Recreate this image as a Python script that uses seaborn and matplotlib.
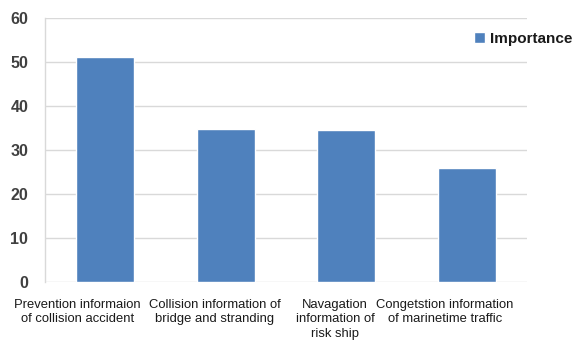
import matplotlib
matplotlib.use("Agg")
import matplotlib.pyplot as plt
import matplotlib.transforms as mtransforms
import seaborn as sns
import pandas as pd

categories = [
    "Prevention informaion\nof collision accident",
    "Collision information of\nbridge and stranding",
    "Navagation\ninformation of\nrisk ship",
    "Congetstion information\nof marinetime traffic",
]
importance = [51.1, 34.7, 34.5, 25.8]
y_ticks = [0, 10, 20, 30, 40, 50, 60]
series_name = "Importance"

sns.set_style("white")
plt.rcParams["font.family"] = ["Liberation Sans", "DejaVu Sans"]

df = pd.DataFrame({"category": categories, "value": importance})

fig = plt.figure(figsize=(5.76, 3.44), dpi=100)
ax = fig.add_axes([0.078, 0.180, 0.837, 0.768])

sns.barplot(data=df, x="category", y="value", color="#4F81BD",
            width=0.48, saturation=1, ax=ax, label=series_name, zorder=3)

ax.set_ylim(0, 60)
ax.set_xlim(-0.5, len(categories) - 0.5)
ax.set_yticks(y_ticks)
ax.yaxis.grid(True, color="#d9d9d9", linewidth=1.0, zorder=0)
ax.set_axisbelow(True)
for side in ["top", "right", "bottom"]:
    ax.spines[side].set_visible(False)
ax.spines["left"].set_color("#d9d9d9")
ax.spines["left"].set_linewidth(1.0)
ax.set_xlabel("")
ax.set_ylabel("")

ax.tick_params(axis="y", length=0, pad=12, labelsize=11.5, labelcolor="#404040")
for lbl in ax.get_yticklabels():
    lbl.set_fontweight("bold")
ax.tick_params(axis="x", length=0, pad=12, labelsize=9.4, labelcolor="#1a1a1a")

# shift each category label a little to the left of its bar
shifts_px = [-28, -11, -11, -22]
for lbl, dx in zip(ax.get_xticklabels(), shifts_px):
    lbl.set_linespacing(1.3)
    lbl.set_transform(lbl.get_transform() +
                      mtransforms.ScaledTranslation(dx / 100, 0, fig.dpi_scale_trans))

if ax.legend_:
    ax.legend_.remove()
handles, labels = ax.get_legend_handles_labels()
fig.legend(handles[:1], labels[:1], loc="center left",
           bbox_to_anchor=(0.823, 0.888), frameon=False, borderpad=0,
           borderaxespad=0, handlelength=0.72, handleheight=0.72,
           handletextpad=0.3, prop={"size": 11, "weight": "bold"},
           labelcolor="#1a1a1a")

fig.savefig("out.png", dpi=100)
